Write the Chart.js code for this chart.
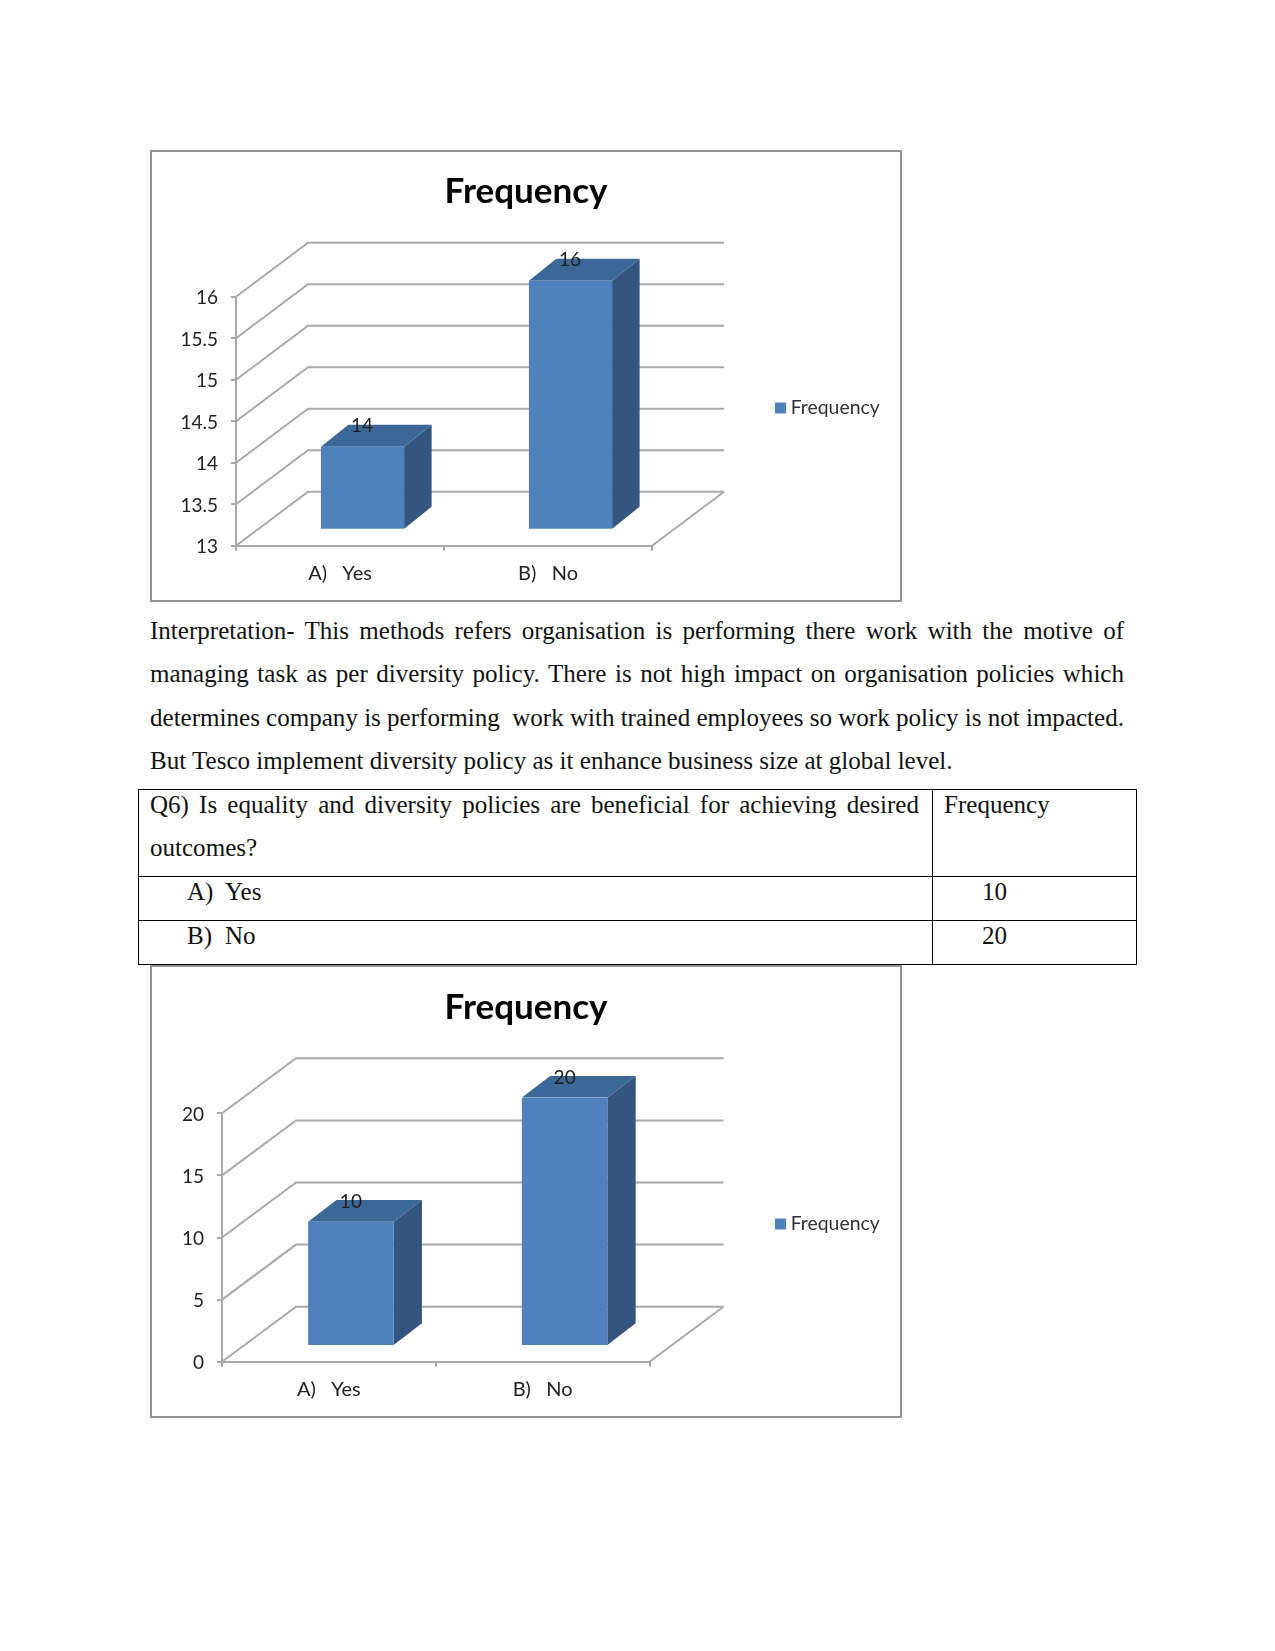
<!DOCTYPE html>
<html>
<head>
<meta charset="utf-8">
<script src="https://cdn.jsdelivr.net/npm/chart.js@4"></script>
<style>
html,body{margin:0;padding:0;background:#fff;}
body{position:relative;width:1275px;height:1651px;overflow:hidden;font-family:"Liberation Serif",serif;color:#111;}
.t{position:absolute;font-size:25.06px;line-height:30px;white-space:nowrap;}
.j{white-space:normal;text-align:justify;text-align-last:justify;word-spacing:-1.5px;}
.r{position:absolute;background:#000;}
.frame{position:absolute;box-sizing:border-box;border:2px solid #929292;pointer-events:none;}
canvas{position:absolute;}
</style>
</head>
<body>
<script>
const categories = ["A)   Yes", "B)   No"];
const seriesName = "Frequency";
const topValues = [14, 16];
const topTicks = [13, 13.5, 14, 14.5, 15, 15.5, 16];
const bottomValues = [10, 20];
const bottomTicks = [0, 5, 10, 15, 20];
const paragraphLines = [
  "Interpretation- This methods refers organisation is performing there work with the motive of",
  "managing task as per diversity policy. There is not high impact on organisation policies which",
  "determines company is performing\u00a0 work with trained employees so work policy is not impacted.",
  "But Tesco implement diversity policy as it enhance business size at global level."
];
const questionLines = ["Q6) Is equality and diversity policies are beneficial for achieving desired", "outcomes?"];
const tableHeader = "Frequency";
const tableRowMarks = ["A)", "B)"];
const tableRowNames = ["Yes", "No"];

const BLUE = "#4f81bd", BLUE_TOP = "#3c6898", BLUE_SIDE = "#33557f", GRID = "#a9a9a9", FONT = "Lato, sans-serif";

function addText(s, x, baseline, w) {
  const d = document.createElement("div");
  d.className = "t" + (w ? " j" : "");
  d.textContent = s;
  d.style.left = x + "px";
  d.style.top = (baseline - 23) + "px";
  if (w) d.style.width = w + "px";
  document.body.appendChild(d);
}
function rule(x, y, w, h) {
  const d = document.createElement("div");
  d.className = "r";
  d.style.cssText = `left:${x}px;top:${y}px;width:${w}px;height:${h}px`;
  document.body.appendChild(d);
}

const pseudo3d = {
  id: "pseudo3d",
  beforeLayout(chart) {
    const L = chart.legend, g = chart.options.plugins.pseudo3d;
    if (L && !L.__slot) {
      L.__slot = true;
      const fit = L.fit;
      L.fit = function () { fit.call(this); this.width = g.legendSlot; };
    }
  },
  beforeDraw(chart) {
    const L = chart.legend, g = chart.options.plugins.pseudo3d;
    const h = L.height;
    L.left = g.legendX - L.options.labels.padding;
    L.right = L.left + L.width;
    L.top = g.legendY - h / 2;
    L.bottom = g.legendY + h / 2;
  },
  beforeDatasetsDraw(chart) {
    const g = chart.options.plugins.pseudo3d, c = chart.ctx, y = chart.scales.y, x = chart.scales.x;
    const L = x.left, R = x.right, B = y.bottom;
    c.save();
    c.strokeStyle = GRID;
    c.lineWidth = 2;
    y.ticks.forEach(t => {
      const p = y.getPixelForValue(t.value);
      c.beginPath();
      c.moveTo(L, p);
      c.lineTo(L + g.wallX, p - g.wallY);
      c.lineTo(R + g.wallX, p - g.wallY);
      c.stroke();
    });
    c.beginPath();
    c.moveTo(R + g.wallX, B - g.wallY);
    c.lineTo(R, B);
    c.stroke();
    c.restore();
  },
  beforeDatasetDraw(chart) {
    const g = chart.options.plugins.pseudo3d, c = chart.ctx;
    const meta = chart.getDatasetMeta(0);
    c.save();
    c.translate(g.planeX, -g.planeY);
    meta.data.forEach(el => {
      const l = el.x - el.width / 2, r = el.x + el.width / 2;
      c.fillStyle = BLUE_SIDE;
      c.beginPath();
      c.moveTo(r, el.y);
      c.lineTo(r + g.barX, el.y - g.barY);
      c.lineTo(r + g.barX, el.base - g.barY);
      c.lineTo(r, el.base);
      c.closePath();
      c.fill();
      c.fillStyle = BLUE_TOP;
      c.beginPath();
      c.moveTo(l, el.y);
      c.lineTo(l + g.barX, el.y - g.barY);
      c.lineTo(r + g.barX, el.y - g.barY);
      c.lineTo(r, el.y);
      c.closePath();
      c.fill();
    });
  },
  afterDatasetDraw(chart) {
    const g = chart.options.plugins.pseudo3d, c = chart.ctx;
    const meta = chart.getDatasetMeta(0), data = chart.data.datasets[0].data;
    c.fillStyle = "#1f1f1f";
    c.font = "19px " + FONT;
    c.textAlign = "center";
    c.textBaseline = "middle";
    meta.data.forEach((el, i) => c.fillText(String(data[i]), el.x + g.labelX, el.y - g.barY + g.labelY));
    c.restore();
  }
};

function makeChart(top, height, values, ticks, g) {
  const cv = document.createElement("canvas");
  cv.width = 752; cv.height = height;
  cv.style.cssText = `left:150px;top:${top}px;width:752px;height:${height}px`;
  document.body.appendChild(cv);
  const f = document.createElement("div");
  f.className = "frame";
  f.style.cssText = `left:150px;top:${top}px;width:752px;height:${height}px`;
  document.body.appendChild(f);
  new Chart(cv, {
    type: "bar",
    data: {
      labels: categories,
      datasets: [{ label: seriesName, data: values, base: ticks[0], backgroundColor: BLUE, borderWidth: 0,
                   barPercentage: 0.8, categoryPercentage: 0.5 }]
    },
    plugins: [pseudo3d],
    options: {
      responsive: false,
      animation: false,
      layout: { padding: 0 },
      plugins: {
        tooltip: { enabled: false },
        title: { display: true, text: seriesName, color: "#000",
                 font: { family: FONT, size: 35, weight: "bold", lineHeight: 1.2 },
                 padding: { top: g.titleTop, bottom: g.titleBottom } },
        legend: { display: true, position: "right",
                  labels: { font: { family: FONT, size: 19.4 }, color: "#333", boxWidth: 1, boxHeight: 1, padding: 10,
                            generateLabels(ch) {
                              return Chart.defaults.plugins.legend.labels.generateLabels(ch)
                                .map(i => ({ ...i, lineWidth: 10, strokeStyle: BLUE }));
                            } } },
        pseudo3d: g
      },
      scales: {
        x: {
          grid: { drawOnChartArea: false, drawTicks: true, tickLength: 5, color: GRID, lineWidth: 2 },
          border: { color: GRID, width: 2 },
          ticks: { color: "#222", font: { family: FONT, size: 20 }, padding: 11, maxRotation: 0 },
          afterFit(s) { s.height = g.xAxisHeight; }
        },
        y: {
          min: ticks[0], max: ticks[ticks.length - 1],
          grid: { drawOnChartArea: false, drawTicks: true, tickLength: 5, color: GRID, lineWidth: 2 },
          border: { color: GRID, width: 2 },
          ticks: { color: "#222", font: { family: FONT, size: 19 }, padding: g.tickPad, callback: v => String(v) },
          afterBuildTicks(s) {
            s.ticks = ticks.map(v => ({ value: v }));
            if (!s.__nudged) {
              s.__nudged = true;
              const items = s._computeLabelItems;
              s._computeLabelItems = function (area) {
                return items.call(this, area).map(it => ({ ...it, textOffset: it.textOffset + g.tickLabelDrop }));
              };
            }
          },
          afterFit(s) { s.width = g.yAxisWidth; }
        }
      }
    }
  });
}

makeChart(150, 452, topValues, topTicks, {
  titleTop: 21, titleBottom: 83.7, yAxisWidth: 86, xAxisHeight: 56.3, legendSlot: 250, tickPad: 13, tickLabelDrop: 1.2,
  legendX: 630, legendY: 258, labelX: -0.5, labelY: 1,
  wallX: 72, wallY: 54, planeX: 22.5, planeY: 16, barX: 27.5, barY: 22
});

paragraphLines.forEach((s, i) => {
  addText(s, 150, [639, 682, 726, 769][i], i < 3 ? 974 : 0);
});

rule(138, 789, 999, 1);
rule(138, 876, 999, 1);
rule(138, 920, 999, 1);
rule(138, 964, 999, 1);
rule(138, 789, 1, 176);
rule(932, 789, 1, 176);
rule(1136, 789, 1, 176);
addText(questionLines[0], 150, 813, 769);
addText(questionLines[1], 150, 856, 0);
addText(tableHeader, 944, 813, 0);
bottomValues.forEach((v, i) => {
  const b = [900, 944][i];
  addText(tableRowMarks[i], 187, b, 0);
  addText(tableRowNames[i], 225, b, 0);
  addText(String(v), 982, b, 0);
});

makeChart(965, 453, bottomValues, bottomTicks, {
  titleTop: 22, titleBottom: 84.3, yAxisWidth: 72, xAxisHeight: 56.3, legendSlot: 252.5, tickPad: 13, tickLabelDrop: 1.6,
  legendX: 630, legendY: 259, labelX: 0, labelY: 1.5,
  wallX: 74, wallY: 55, planeX: 22, planeY: 15.7, barX: 28.3, barY: 21.7
});
</script>
</body>
</html>
